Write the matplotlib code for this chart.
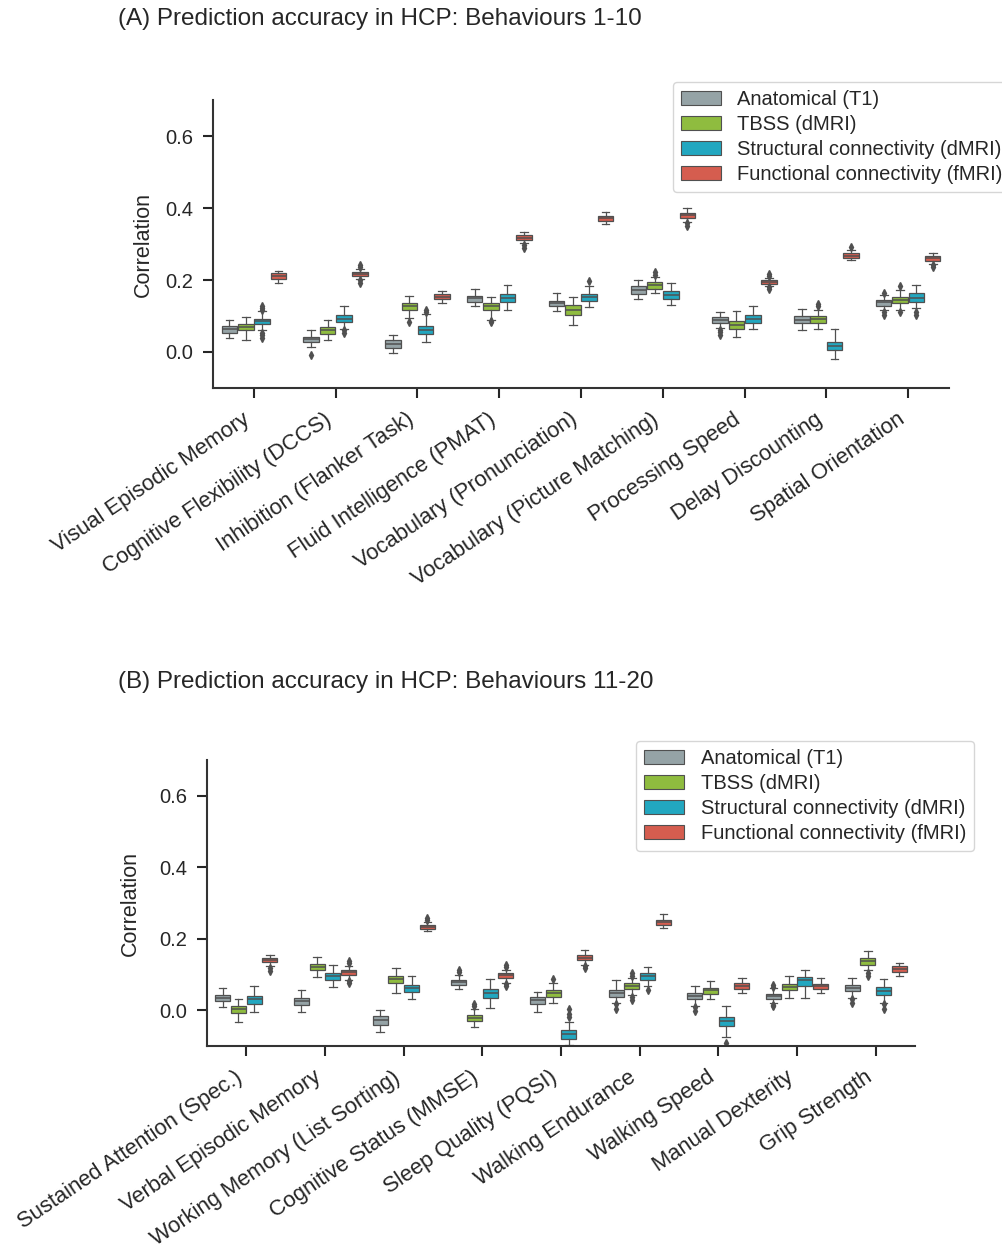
import numpy as np
import matplotlib
matplotlib.use("Agg")
import matplotlib.pyplot as plt
from matplotlib.patches import Patch

plt.rcParams['font.family'] = ['Liberation Sans', 'DejaVu Sans']
plt.rcParams['text.color'] = '#262626'
plt.rcParams['axes.labelcolor'] = '#262626'
plt.rcParams['xtick.color'] = '#262626'
plt.rcParams['ytick.color'] = '#262626'

# ---------------- data: [whislo, q1, median, q3, whishi] per behaviour ----------------
modalities = ["Anatomical (T1)", "TBSS (dMRI)",
              "Structural connectivity (dMRI)", "Functional connectivity (fMRI)"]
colors = ["#95a3a6", "#8fbc3f", "#22a7c0", "#d55d4f"]

cats_a = ["Visual Episodic Memory", "Cognitive Flexibility (DCCS)",
          "Inhibition (Flanker Task)", "Fluid Intelligence (PMAT)",
          "Vocabulary (Pronunciation)", "Vocabulary (Picture Matching)",
          "Processing Speed", "Delay Discounting", "Spatial Orientation"]

a_t1 = [[0.039, 0.054, 0.065, 0.073, 0.090], [0.014, 0.029, 0.036, 0.043, 0.060],
        [-0.003, 0.011, 0.022, 0.032, 0.048], [0.127, 0.140, 0.149, 0.156, 0.176],
        [0.113, 0.127, 0.136, 0.143, 0.165], [0.147, 0.162, 0.173, 0.182, 0.199],
        [0.067, 0.080, 0.090, 0.097, 0.110], [0.060, 0.080, 0.090, 0.101, 0.119],
        [0.117, 0.129, 0.138, 0.145, 0.159]]
a_t1_fl = [[], [-0.007], [], [], [], [], [0.062, 0.055, 0.048], [], [0.165, 0.110, 0.103]]

a_tbss = [[0.034, 0.060, 0.069, 0.078, 0.097], [0.032, 0.051, 0.060, 0.069, 0.090],
          [0.094, 0.117, 0.128, 0.136, 0.156], [0.090, 0.117, 0.127, 0.136, 0.154],
          [0.076, 0.103, 0.117, 0.131, 0.153], [0.164, 0.176, 0.187, 0.194, 0.207],
          [0.043, 0.064, 0.075, 0.085, 0.115], [0.064, 0.080, 0.092, 0.101, 0.117],
          [0.117, 0.136, 0.145, 0.154, 0.173]]
a_tbss_fl = [[], [], [0.082], [0.087, 0.082], [], [0.215, 0.222], [], [0.127, 0.134], [0.182, 0.110]]

a_sc = [[0.060, 0.078, 0.086, 0.093, 0.113], [0.064, 0.082, 0.093, 0.103, 0.127],
        [0.028, 0.051, 0.062, 0.073, 0.105], [0.117, 0.139, 0.150, 0.161, 0.185],
        [0.125, 0.143, 0.153, 0.162, 0.182], [0.131, 0.147, 0.159, 0.170, 0.193],
        [0.064, 0.080, 0.092, 0.103, 0.127], [-0.019, 0.006, 0.017, 0.029, 0.064],
        [0.122, 0.139, 0.151, 0.164, 0.187]]
a_sc_fl = [[0.117, 0.122, 0.128, 0.053, 0.047, 0.040], [0.060, 0.053], [0.112, 0.118], [],
           [0.196], [], [], [], [0.110, 0.103]]

a_fc = [[0.193, 0.204, 0.212, 0.219, 0.226], [0.203, 0.212, 0.217, 0.223, 0.230],
        [0.136, 0.147, 0.154, 0.161, 0.170], [0.302, 0.310, 0.318, 0.324, 0.333],
        [0.356, 0.365, 0.373, 0.379, 0.390], [0.362, 0.373, 0.381, 0.387, 0.400],
        [0.184, 0.190, 0.194, 0.199, 0.205], [0.255, 0.261, 0.268, 0.275, 0.284],
        [0.245, 0.254, 0.261, 0.268, 0.275]]
a_fc_fl = [[], [0.236, 0.243, 0.199, 0.191], [], [0.298, 0.290], [], [0.358, 0.351],
           [0.211, 0.216, 0.180, 0.175], [0.292], [0.242, 0.236]]

cats_b = ["Sustained Attention (Spec.)", "Verbal Episodic Memory",
          "Working Memory (List Sorting)", "Cognitive Status (MMSE)",
          "Sleep Quality (PQSI)", "Walking Endurance", "Walking Speed",
          "Manual Dexterity", "Grip Strength"]

b_t1 = [[0.010, 0.026, 0.035, 0.044, 0.061], [-0.006, 0.014, 0.026, 0.035, 0.058],
        [-0.060, -0.042, -0.028, -0.016, 0.001], [0.060, 0.072, 0.080, 0.086, 0.100],
        [-0.005, 0.019, 0.029, 0.038, 0.051], [0.021, 0.038, 0.048, 0.058, 0.084],
        [0.012, 0.031, 0.040, 0.049, 0.069], [0.021, 0.032, 0.040, 0.047, 0.061],
        [0.035, 0.054, 0.063, 0.070, 0.091]]
b_t1_fl = [[], [], [], [0.106, 0.114], [], [0.017, 0.005], [0.008, -0.002],
           [0.066, 0.071, 0.016, 0.011], [0.031, 0.020]]

b_tbss = [[-0.032, -0.008, 0.003, 0.012, 0.032], [0.092, 0.112, 0.121, 0.130, 0.149],
          [0.049, 0.077, 0.087, 0.097, 0.117], [-0.048, -0.030, -0.021, -0.014, 0.003],
          [0.021, 0.038, 0.048, 0.058, 0.075], [0.042, 0.060, 0.069, 0.077, 0.091],
          [0.031, 0.047, 0.056, 0.063, 0.081], [0.035, 0.056, 0.066, 0.074, 0.095],
          [0.114, 0.128, 0.137, 0.146, 0.165]]
b_tbss_fl = [[], [], [], [0.012, 0.019], [0.087], [0.097, 0.104, 0.038, 0.030], [], [],
             [0.105, 0.097]]

b_sc = [[-0.006, 0.019, 0.031, 0.040, 0.069], [0.066, 0.086, 0.095, 0.105, 0.128],
        [0.031, 0.051, 0.061, 0.070, 0.095], [0.006, 0.035, 0.048, 0.060, 0.088],
        [-0.097, -0.079, -0.067, -0.055, -0.034], [0.069, 0.086, 0.096, 0.105, 0.121],
        [-0.076, -0.045, -0.031, -0.018, 0.012], [0.035, 0.069, 0.084, 0.094, 0.114],
        [0.021, 0.042, 0.054, 0.065, 0.088]]
b_sc_fl = [[], [], [], [], [-0.018, -0.010, 0.003], [0.058], [-0.092], [], [0.017, 0.005]]

b_fc = [[0.123, 0.134, 0.141, 0.146, 0.154], [0.086, 0.100, 0.107, 0.114, 0.125],
        [0.221, 0.228, 0.234, 0.240, 0.248], [0.077, 0.090, 0.098, 0.105, 0.114],
        [0.128, 0.140, 0.147, 0.154, 0.169], [0.229, 0.238, 0.246, 0.253, 0.269],
        [0.049, 0.060, 0.069, 0.077, 0.089], [0.049, 0.060, 0.068, 0.074, 0.089],
        [0.097, 0.107, 0.116, 0.123, 0.132]]
b_fc_fl = [[0.118, 0.111], [0.132, 0.139, 0.081, 0.076], [0.254, 0.258],
           [0.120, 0.126, 0.073, 0.068], [0.123, 0.118], [], [], [], []]

line_gray = "#505050"
FS = 14.5


def draw_panel(ax, cats, series, fliers, legend_anchor, ylab_x):
    offsets = [-0.3, -0.1, 0.1, 0.3]
    for k, (vals, fl) in enumerate(zip(series, fliers)):
        stats = []
        for v, f in zip(vals, fl):
            stats.append(dict(whislo=v[0], q1=v[1], med=v[2], q3=v[3], whishi=v[4],
                              fliers=np.array(f)))
        pos = np.arange(len(cats)) + offsets[k]
        ax.bxp(stats, positions=pos, widths=0.19, patch_artist=True,
               manage_ticks=False,
               boxprops=dict(facecolor=colors[k], edgecolor=line_gray, linewidth=0.9),
               medianprops=dict(color=line_gray, linewidth=1.1),
               whiskerprops=dict(color=line_gray, linewidth=0.9),
               capprops=dict(color=line_gray, linewidth=0.9),
               flierprops=dict(marker='d', markerfacecolor=line_gray,
                               markeredgecolor=line_gray, markersize=4))

    ax.set_xlim(-0.5, len(cats) - 0.5)
    ax.set_ylim(-0.1, 0.7)
    ax.set_yticks([0.0, 0.2, 0.4, 0.6])
    ax.set_yticklabels(["0.0", "0.2", "0.4", "0.6"], fontsize=FS)
    ax.set_xticks(np.arange(len(cats)))
    ax.set_xticklabels(cats, rotation=34, ha='right', fontsize=15.8)
    ax.tick_params(length=7, width=1.5)
    ax.tick_params(axis='y', pad=7)
    ax.tick_params(axis='x', pad=8)
    for s in ['top', 'right']:
        ax.spines[s].set_visible(False)
    for s in ['left', 'bottom']:
        ax.spines[s].set_linewidth(1.5)
        ax.spines[s].set_color('#333333')
    ax.set_ylabel("Correlation", fontsize=15.5)
    ax.yaxis.set_label_coords(ylab_x, 0.5)

    handles = [Patch(facecolor=c, edgecolor=line_gray, linewidth=0.8, label=m)
               for c, m in zip(colors, modalities)]
    ax.legend(handles=handles, loc='upper left', bbox_to_anchor=legend_anchor,
              borderaxespad=0, fontsize=FS, labelspacing=0.3, handlelength=2.0,
              handletextpad=0.8, frameon=True)


fig = plt.figure(figsize=(10.03, 12.52), dpi=100)
ax_a = fig.add_axes([0.2124, 0.6901, 0.7338, 0.2300])
ax_b = fig.add_axes([0.2064, 0.1645, 0.7059, 0.2284])

draw_panel(ax_a, cats_a, [a_t1, a_tbss, a_sc, a_fc],
           [a_t1_fl, a_tbss_fl, a_sc_fl, a_fc_fl], (0.625, 1.0625), -0.08)
draw_panel(ax_b, cats_b, [b_t1, b_tbss, b_sc, b_fc],
           [b_t1_fl, b_tbss_fl, b_sc_fl, b_fc_fl], (0.606, 1.066), -0.093)

fig.text(118 / 1003, 1 - 19 / 1252, "(A) Prediction accuracy in HCP: Behaviours 1-10",
         fontsize=17.5, ha='left', va='center')
fig.text(118 / 1003, 1 - 682 / 1252, "(B) Prediction accuracy in HCP: Behaviours 11-20",
         fontsize=17.5, ha='left', va='center')

fig.savefig("out.png", dpi=100)
